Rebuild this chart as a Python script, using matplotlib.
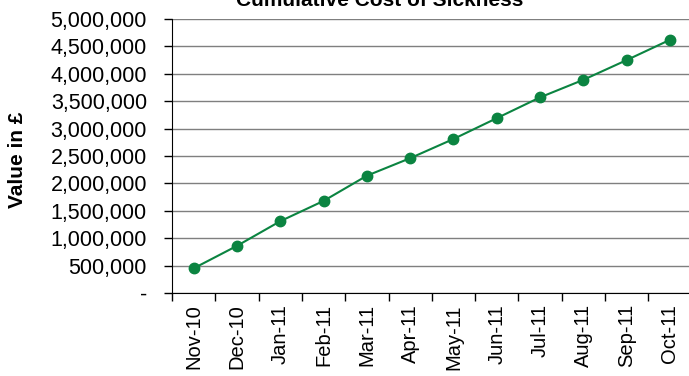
import matplotlib
matplotlib.use("Agg")
import matplotlib.pyplot as plt
from matplotlib.ticker import FuncFormatter, FixedLocator
import numpy as np

plt.rcParams['font.family'] = ['Liberation Sans', 'DejaVu Sans']

# data
months = ["Nov-10", "Dec-10", "Jan-11", "Feb-11", "Mar-11", "Apr-11",
          "May-11", "Jun-11", "Jul-11", "Aug-11", "Sep-11", "Oct-11"]
cumulative_cost = [450000, 860000, 1310000, 1680000, 2140000, 2460000,
                   2810000, 3190000, 3570000, 3890000, 4250000, 4620000]

GREEN = "#0b8441"

fig = plt.figure(figsize=(6.89, 3.76), dpi=100)
ax = fig.add_axes([172 / 689, 1 - 293 / 376, 519.6 / 689, 274 / 376])

x = np.arange(len(months))
ax.plot(x, cumulative_cost, color=GREEN, lw=1.5, marker="o",
        markersize=7.5, markerfacecolor=GREEN, markeredgecolor=GREEN, zorder=3)

ax.set_xlim(-0.5, len(months) - 0.5)
ax.set_ylim(0, 5000000)

# y axis
ax.set_yticks(np.arange(0, 5000001, 500000))
ax.yaxis.set_major_formatter(FuncFormatter(lambda v, p: "-" if v == 0 else f"{int(v):,}"))
ax.tick_params(axis="y", labelsize=15.5, length=6, width=1, pad=12, direction="out")
ax.grid(axis="y", color="#7f7f7f", lw=1)
ax.set_axisbelow(True)

# x axis: ticks on category boundaries, labels on centres
ax.xaxis.set_major_locator(FixedLocator(np.arange(-0.5, len(months), 1.0)))
ax.xaxis.set_major_formatter(FuncFormatter(lambda v, p: ""))
ax.xaxis.set_minor_locator(FixedLocator(x))
ax.set_xticklabels(months, minor=True, rotation=90, fontsize=14.5)
ax.tick_params(axis="x", which="major", length=6, width=1, direction="out")
ax.tick_params(axis="x", which="minor", length=0, pad=8)

for side in ("top", "right"):
    ax.spines[side].set_visible(False)
ax.spines["left"].set_color("black")
ax.spines["bottom"].set_color("black")

fig.text(18 / 689, 1 - 160 / 376, "Value in £", rotation=90, fontsize=15,
         fontweight="bold", ha="center", va="center")
fig.text(380 / 689, 1 - 0 / 376, "Cumulative Cost of Sickness", fontsize=15,
         fontweight="bold", ha="center", va="center")

fig.savefig("out.png", dpi=100)
